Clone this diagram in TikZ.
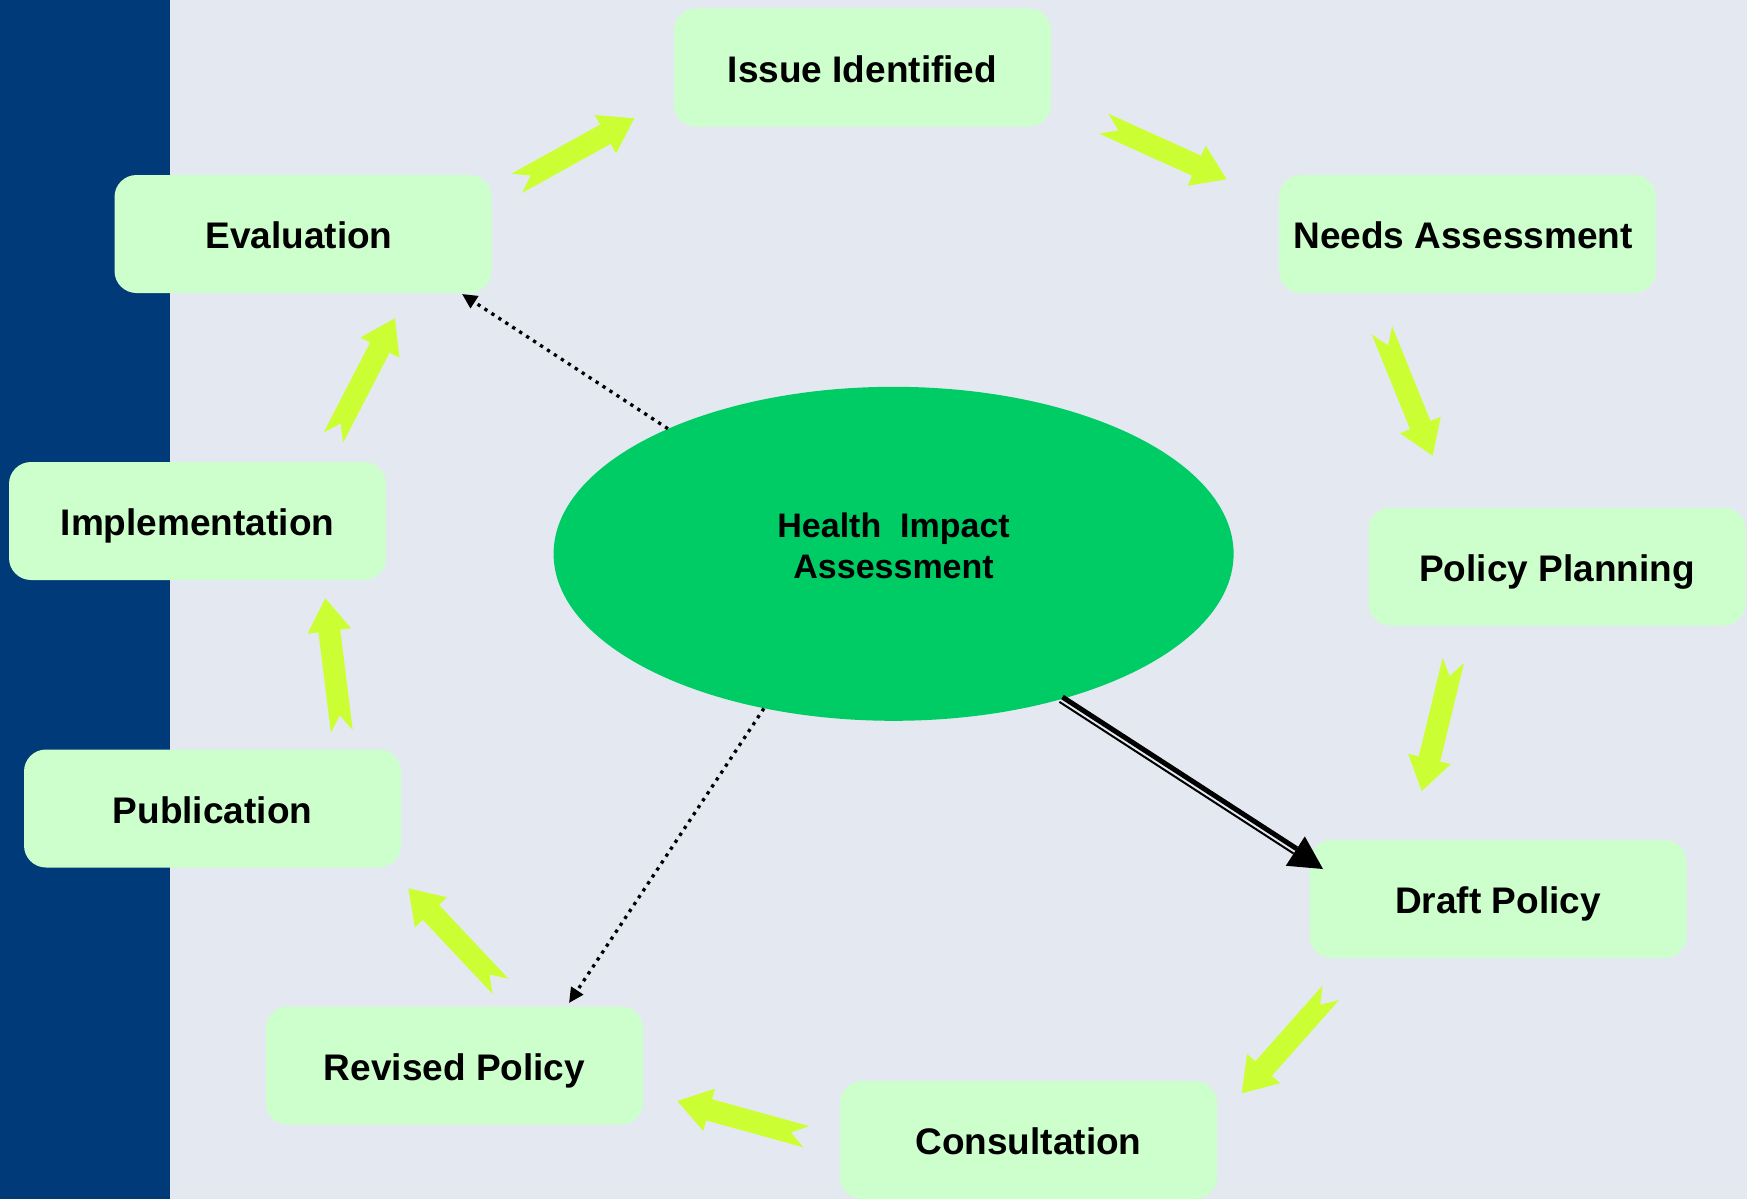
\documentclass[tikz,border=0pt]{standalone}
\usepackage{fontspec}
\setmainfont{Liberation Sans}
\usetikzlibrary{calc,shapes.geometric,arrows.meta}
\definecolor{bgc}{HTML}{E4E9F1}
\definecolor{stripc}{HTML}{003A78}
\definecolor{boxc}{HTML}{CCFFCC}
\definecolor{ellc}{HTML}{00CC66}
\definecolor{arrc}{HTML}{CCFF33}
\newcommand\notchArrow[2]{%
  \coordinate (aq) at ($(#2)!33pt!(#1)$);
  \fill[arrc] ($(#1)!11pt!90:(#2)$) -- ($(#1)!16pt!(#2)$) -- ($(#1)!11pt!-90:(#2)$)
    -- ($(aq)!11pt!-90:(#2)$) -- ($(aq)!22pt!-90:(#2)$) -- (#2)
    -- ($(aq)!22pt!90:(#2)$) -- ($(aq)!11pt!90:(#2)$) -- cycle;
}
\begin{document}
\begin{tikzpicture}[x=1pt,y=-1pt,
  stepbox/.style={fill=boxc,rounded corners=22pt,minimum width=377pt,minimum height=118pt,
    inner sep=0pt,text height=29pt,text depth=0pt,font=\fontsize{37}{44}\selectfont\bfseries},
  dotarrow/.style={line width=3.3pt,dash pattern=on 3.3pt off 5pt,
    -{Triangle[length=15pt,width=14pt]}}]
\useasboundingbox (0,0) rectangle (1747,1199);
\fill[bgc] (0,0) rectangle (1747,1199);
\fill[stripc] (0,0) rectangle (170,1199);

\node[stepbox] (issue) at (862.5,67.5) {Issue Identified};
\node[stepbox] (needs) at (1467.5,234) {Needs Assessment\hspace*{9pt}};
\node[stepbox] (plan) at (1557,566.5) {Policy Planning};
\node[stepbox] (draft) at (1498,899) {Draft Policy};
\node[stepbox] (consult) at (1028.5,1140) {Consultation};
\node[stepbox] (revised) at (454.5,1065.5) {Revised Policy};
\node[stepbox] (pub) at (212.5,808.5) {Publication};
\node[stepbox] (impl) at (197.5,521) {Implementation};
\node[stepbox] (eval) at (303,234) {Evaluation\hspace*{8pt}};

\node[ellipse,fill=ellc,minimum width=680pt,minimum height=334pt,inner sep=0pt,
  align=center,text depth=16pt,font=\fontsize{34}{41}\selectfont\bfseries] (hia) at (893.6,553.8)
  {Health\ \ Impact\\Assessment};

% block arrows of the cycle
\coordinate (a1s) at (516.7,183.3); \coordinate (a1e) at (634.3,118.3);
\coordinate (a2s) at (1103.8,123.7); \coordinate (a2e) at (1226.7,179.3);
\coordinate (a3s) at (1382,330.5); \coordinate (a3e) at (1432.7,455.7);
\coordinate (a4s) at (1453.3,660.5); \coordinate (a4e) at (1421.7,791);
\coordinate (a5s) at (1330.8,992.8); \coordinate (a5e) at (1241.7,1093.3);
\coordinate (a6s) at (806.3,1136.7); \coordinate (a6e) at (677.3,1101);
\coordinate (a7s) at (500.5,986.3); \coordinate (a7e) at (408.3,888.3);
\coordinate (a8s) at (341.8,731.3); \coordinate (a8e) at (325.3,598.3);
\coordinate (a9s) at (333.3,437.7); \coordinate (a9e) at (395,318.3);
\notchArrow{a1s}{a1e}
\notchArrow{a2s}{a2e}
\notchArrow{a3s}{a3e}
\notchArrow{a4s}{a4e}
\notchArrow{a5s}{a5e}
\notchArrow{a6s}{a6e}
\notchArrow{a7s}{a7e}
\notchArrow{a8s}{a8e}
\notchArrow{a9s}{a9e}

% dotted arrows
\coordinate (evtip) at (462,294);
\coordinate (revtip) at (569,1003);
\draw[dotarrow] (hia.151) -- (evtip);
\draw[dotarrow] (hia.-130) -- (revtip);

% compound arrow to Draft Policy
\coordinate (dS) at (hia.-41);
\coordinate (dE) at (1323,869);
\coordinate (dB) at ($(dE)!33pt!(dS)$);
\draw[line width=5pt] ($(dS)!2.7pt!90:(dE)$) -- ($(dB)!2.7pt!90:(dE)$);
\draw[line width=2pt] ($(dS)!3pt!-90:(dE)$) -- ($(dB)!3pt!-90:(dE)$);
\fill ($(dB)!17.5pt!90:(dE)$) -- (dE) -- ($(dB)!17.5pt!-90:(dE)$) -- cycle;
\end{tikzpicture}
\end{document}
